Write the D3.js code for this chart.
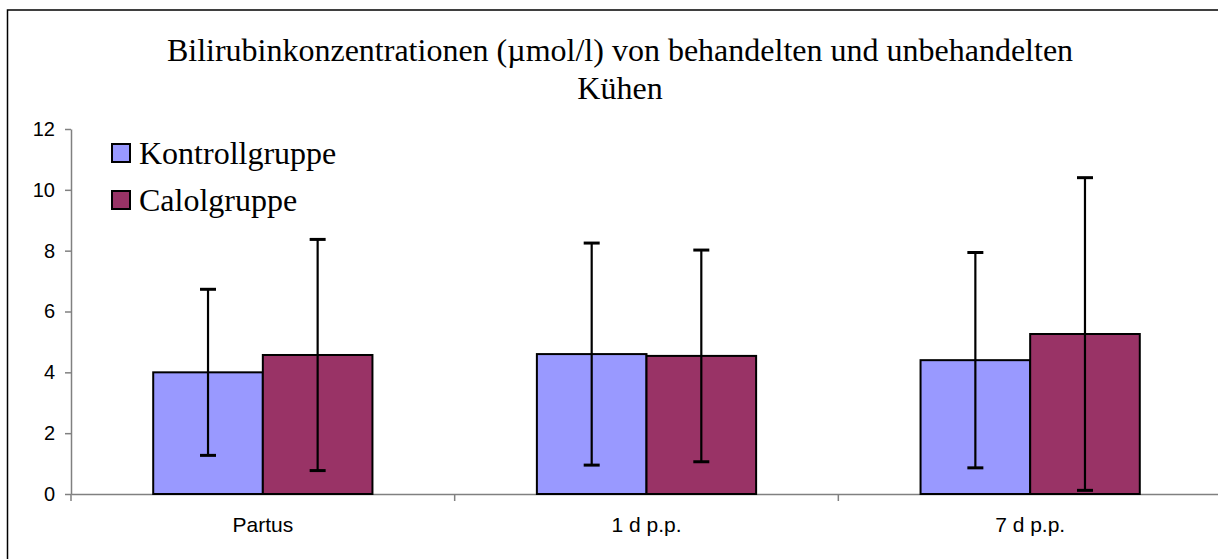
<!DOCTYPE html>
<html lang="de">
<head>
  <meta charset="UTF-8">
  <title>Bilirubinkonzentrationen</title>
  <script src="https://d3js.org/d3.v7.min.js"></script>
  <style>
    body { margin: 0; background: #fff; }
    .title { font-family: "Liberation Serif", "Times New Roman", serif; font-size: 32px; fill: #000; }
    .legend-label { font-family: "Liberation Serif", "Times New Roman", serif; font-size: 32px; fill: #000; }
    .axis text { font-family: "Liberation Sans", Arial, sans-serif; font-size: 20px; fill: #000; }
    .x-axis text { font-size: 21px; }
    .axis path, .axis line { stroke: #808080; stroke-width: 1.5; }
  </style>
</head>
<body>
  <script>
    // Daten
    const categories = ["Partus", "1 d p.p.", "7 d p.p."];
    const seriesNames = ["Kontrollgruppe", "Calolgruppe"];
    const kontrollMean = [4.0, 4.6, 4.4];
    const kontrollSD = [2.73, 3.65, 3.54];
    const calolMean = [4.57, 4.54, 5.26];
    const calolSD = [3.8, 3.48, 5.14];
    const yTicks = [0, 2, 4, 6, 8, 10, 12];
    const colors = ["#9999FF", "#993366"];

    const W = 1218, H = 559;
    const plot = { left: 71, right: 1222, top: 129, bottom: 494 };

    const rows = categories.map((c, i) => ({
      cat: c,
      values: [
        { s: seriesNames[0], mean: kontrollMean[i], sd: kontrollSD[i] },
        { s: seriesNames[1], mean: calolMean[i], sd: calolSD[i] }
      ]
    }));

    const svg = d3.select("body").append("svg")
      .attr("width", W)
      .attr("height", H);

    // Rahmen
    svg.append("rect")
      .attr("x", 7.5).attr("y", 10)
      .attr("width", W + 20).attr("height", H + 20)
      .attr("fill", "none").attr("stroke", "#000").attr("stroke-width", 1.5);

    // Titel
    const title = svg.append("text")
      .attr("class", "title")
      .attr("text-anchor", "middle");
    title.append("tspan").attr("x", 620).attr("y", 61)
      .text("Bilirubinkonzentrationen (µmol/l) von behandelten und unbehandelten");
    title.append("tspan").attr("x", 620).attr("y", 99).text("Kühen");

    // Skalen
    const x0 = d3.scaleBand()
      .domain(categories)
      .range([plot.left, plot.right])
      .padding(0);

    const x1 = d3.scaleBand()
      .domain(seriesNames)
      .range([0, x0.bandwidth()])
      .paddingInner(0)
      .paddingOuter(0.75);

    const y = d3.scaleLinear()
      .domain([0, 12])
      .range([plot.bottom, plot.top]);

    // Y-Achse
    svg.append("g")
      .attr("class", "axis")
      .attr("transform", `translate(${plot.left},0)`)
      .call(d3.axisLeft(y).tickValues(yTicks).tickSize(6).tickSizeOuter(0).tickPadding(10));

    // X-Achse
    const xAxis = svg.append("g")
      .attr("class", "axis x-axis")
      .attr("transform", `translate(0,${plot.bottom})`)
      .call(d3.axisBottom(x0).tickSize(0).tickSizeOuter(0).tickPadding(23));

    // Kategorie-Trennstriche
    const sepPositions = categories.map(c => x0(c));
    xAxis.selectAll(".sep")
      .data(sepPositions)
      .join("line")
      .attr("class", "sep")
      .attr("x1", d => d).attr("x2", d => d)
      .attr("y1", 0).attr("y2", 7);

    // Balken
    const groups = svg.append("g")
      .selectAll("g")
      .data(rows)
      .join("g")
      .attr("transform", d => `translate(${x0(d.cat)},0)`);

    groups.selectAll("rect")
      .data(d => d.values)
      .join("rect")
      .attr("x", d => x1(d.s))
      .attr("y", d => y(d.mean))
      .attr("width", x1.bandwidth())
      .attr("height", d => y(0) - y(d.mean))
      .attr("fill", (d, i) => colors[i])
      .attr("stroke", "#000")
      .attr("stroke-width", 2);

    // Fehlerbalken
    const capHalf = 8;
    const err = groups.selectAll("g.err")
      .data(d => d.values)
      .join("g")
      .attr("class", "err")
      .attr("stroke", "#000")
      .attr("stroke-width", 2.2);

    err.append("line")
      .attr("x1", d => x1(d.s) + x1.bandwidth() / 2)
      .attr("x2", d => x1(d.s) + x1.bandwidth() / 2)
      .attr("y1", d => y(d.mean - d.sd))
      .attr("y2", d => y(d.mean + d.sd));

    err.selectAll("line.cap")
      .data(d => [
        { s: d.s, v: d.mean + d.sd },
        { s: d.s, v: d.mean - d.sd }
      ])
      .join("line")
      .attr("class", "cap")
      .attr("x1", d => x1(d.s) + x1.bandwidth() / 2 - capHalf)
      .attr("x2", d => x1(d.s) + x1.bandwidth() / 2 + capHalf)
      .attr("y1", d => y(d.v))
      .attr("y2", d => y(d.v))
      .attr("stroke-width", 3);

    // Legende
    const legend = svg.append("g")
      .selectAll("g")
      .data(seriesNames)
      .join("g")
      .attr("transform", (d, i) => `translate(112,${144 + i * 47})`);

    legend.append("rect")
      .attr("width", 18).attr("height", 18)
      .attr("fill", (d, i) => colors[i])
      .attr("stroke", "#000")
      .attr("stroke-width", 2);

    legend.append("text")
      .attr("class", "legend-label")
      .attr("x", 27)
      .attr("y", 20)
      .text(d => d);
  </script>
</body>
</html>
